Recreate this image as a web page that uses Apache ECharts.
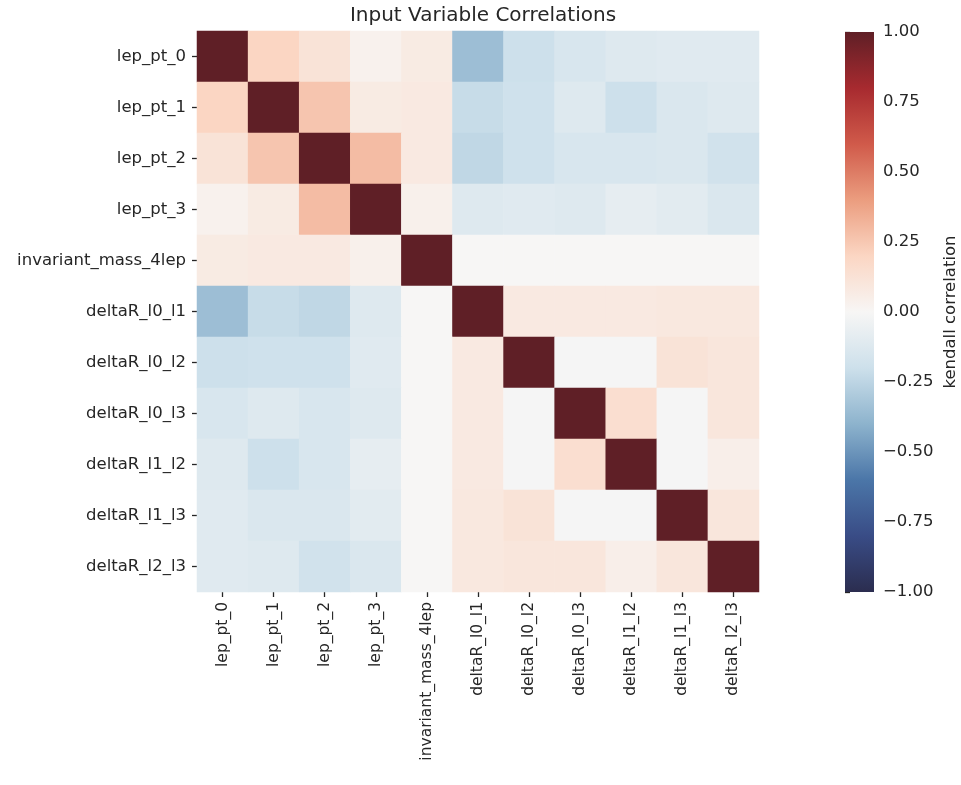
<!DOCTYPE html>
<html>
<head>
<meta charset="utf-8">
<script src="https://cdn.jsdelivr.net/npm/echarts@6/dist/echarts.min.js"></script>
<style>
  html, body { margin: 0; padding: 0; background: #ffffff; }
  #chart { width: 961px; height: 785px; }
</style>
</head>
<body>
<div id="chart"></div>
<script>
// Variable names, in row / column order
const categories = [
  'lep_pt_0', 'lep_pt_1', 'lep_pt_2', 'lep_pt_3', 'invariant_mass_4lep',
  'deltaR_l0_l1', 'deltaR_l0_l2', 'deltaR_l0_l3', 'deltaR_l1_l2', 'deltaR_l1_l3', 'deltaR_l2_l3'
];

// Kendall correlation matrix, one row per variable
const row_lep_pt_0      = [ 1.00,  0.20,  0.12,  0.03,  0.07, -0.35, -0.20, -0.15, -0.12, -0.11, -0.11];
const row_lep_pt_1      = [ 0.20,  1.00,  0.26,  0.07,  0.08, -0.22, -0.19, -0.12, -0.20, -0.14, -0.12];
const row_lep_pt_2      = [ 0.12,  0.26,  1.00,  0.29,  0.08, -0.24, -0.19, -0.15, -0.15, -0.14, -0.18];
const row_lep_pt_3      = [ 0.03,  0.07,  0.29,  1.00,  0.04, -0.12, -0.11, -0.12, -0.08, -0.10, -0.14];
const row_inv_mass_4lep = [ 0.07,  0.08,  0.08,  0.04,  1.00,  0.00,  0.00,  0.00,  0.00,  0.00,  0.00];
const row_dR_l0_l1      = [-0.35, -0.22, -0.24, -0.12,  0.00,  1.00,  0.08,  0.08,  0.08,  0.09,  0.09];
const row_dR_l0_l2      = [-0.20, -0.19, -0.19, -0.11,  0.00,  0.08,  1.00, -0.01, -0.01,  0.12,  0.10];
const row_dR_l0_l3      = [-0.15, -0.12, -0.15, -0.12,  0.00,  0.08, -0.01,  1.00,  0.15, -0.01,  0.10];
const row_dR_l1_l2      = [-0.12, -0.20, -0.15, -0.08,  0.00,  0.08, -0.01,  0.15,  1.00, -0.01,  0.05];
const row_dR_l1_l3      = [-0.11, -0.14, -0.14, -0.10,  0.00,  0.09,  0.12, -0.01, -0.01,  1.00,  0.10];
const row_dR_l2_l3      = [-0.11, -0.12, -0.18, -0.14,  0.00,  0.09,  0.10,  0.10,  0.05,  0.10,  1.00];

const matrixRows = [
  row_lep_pt_0, row_lep_pt_1, row_lep_pt_2, row_lep_pt_3, row_inv_mass_4lep,
  row_dR_l0_l1, row_dR_l0_l2, row_dR_l0_l3, row_dR_l1_l2, row_dR_l1_l3, row_dR_l2_l3
];

// Colour bar ticks
const colorbarTicks = [-1.00, -0.75, -0.50, -0.25, 0.00, 0.25, 0.50, 0.75, 1.00];

// Diverging red-blue palette, from -1 to +1
const palette = [
  '#2b2d4f', '#394c86', '#4b76a8', '#8db3cd', '#cde0eb',
  '#f7f6f5',
  '#fbd6c3', '#eb9d7f', '#d05a4a', '#a72a2f', '#5f1f26'
];

const cells = [];
matrixRows.forEach(function (row, yi) {
  row.forEach(function (v, xi) { cells.push([xi, yi, v]); });
});

const vMin = colorbarTicks[0];
const vMax = colorbarTicks[colorbarTicks.length - 1];

const FONT = 'DejaVu Sans';
const TXT = '#262626';

const fmtTick = function (v) {
  const s = Math.abs(v).toFixed(2);
  return v < -1e-9 ? '\u2212' + s : s;
};

// Colour bar: one gradient rectangle spanning the value axis of the second grid
const renderColorbar = function (params, api) {
  const topLeft = api.coord([0, vMax]);
  const bottomRight = api.coord([1, vMin]);
  const stops = palette.map(function (c, i) {
    return { offset: 1 - i / (palette.length - 1), color: c };
  });
  return {
    type: 'rect',
    shape: {
      x: topLeft[0], y: topLeft[1],
      width: bottomRight[0] - topLeft[0], height: bottomRight[1] - topLeft[1]
    },
    style: { fill: new echarts.graphic.LinearGradient(0, 0, 0, 1, stops) }
  };
};

const chart = echarts.init(document.getElementById('chart'), null, { renderer: 'canvas' });
chart.setOption({
  backgroundColor: '#ffffff',
  animation: false,
  title: {
    text: 'Input Variable Correlations',
    left: 478, top: 1, textAlign: 'center',
    textStyle: { fontFamily: FONT, fontSize: 20, fontWeight: 'normal', color: TXT }
  },
  grid: [
    { left: 197, top: 31, width: 562, height: 561 },
    { left: 845, top: 32, width: 29, height: 560 }
  ],
  xAxis: [
    {
      type: 'category', data: categories, gridIndex: 0,
      axisLine: { show: false },
      axisTick: { show: true, alignWithLabel: true, length: 5, lineStyle: { color: TXT, width: 1.3 } },
      axisLabel: { rotate: 90, interval: 0, margin: 10, fontFamily: FONT, fontSize: 15.5, color: TXT },
      splitArea: { show: false }, splitLine: { show: false }
    },
    { type: 'value', gridIndex: 1, show: false, min: 0, max: 1 }
  ],
  yAxis: [
    {
      type: 'category', data: categories, gridIndex: 0, inverse: true,
      axisLine: { show: false },
      axisTick: { show: true, alignWithLabel: true, length: 5, lineStyle: { color: TXT, width: 1.3 } },
      axisLabel: { interval: 0, margin: 11, fontFamily: FONT, fontSize: 16.5, color: TXT },
      splitArea: { show: false }, splitLine: { show: false }
    },
    {
      type: 'value', gridIndex: 1, position: 'right',
      min: vMin, max: vMax, interval: 0.25,
      axisLine: { show: false },
      axisTick: { show: true, length: 5, lineStyle: { color: TXT, width: 1.3 } },
      splitLine: { show: false },
      axisLabel: { margin: 9, fontFamily: FONT, fontSize: 16.5, color: TXT, formatter: fmtTick },
      name: 'kendall correlation', nameLocation: 'middle', nameRotate: 90, nameGap: 68,
      nameTextStyle: { fontFamily: FONT, fontSize: 16.5, color: TXT }
    }
  ],
  visualMap: {
    type: 'continuous', min: vMin, max: vMax, seriesIndex: 0,
    show: false,
    inRange: { color: palette }
  },
  series: [
    {
      type: 'heatmap', xAxisIndex: 0, yAxisIndex: 0,
      data: cells,
      itemStyle: { borderWidth: 0 },
      emphasis: { disabled: true }
    },
    {
      type: 'custom', xAxisIndex: 1, yAxisIndex: 1,
      data: [[0, vMin, vMax]],
      renderItem: renderColorbar,
      silent: true
    }
  ]
});
</script>
</body>
</html>
